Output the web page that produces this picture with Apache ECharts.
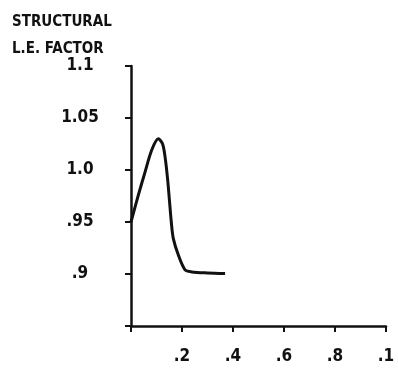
<!DOCTYPE html>
<html>
<head>
<meta charset="utf-8">
<script src="https://cdn.jsdelivr.net/npm/echarts@6/dist/echarts.min.js"></script>
<style>
  html, body { margin: 0; padding: 0; background: #fff; }
  #chart { width: 398px; height: 371px; }
</style>
</head>
<body>
<div id="chart"></div>
<script>
// 曲线数据 (x: fraction, y: factor)
var xVals = [0, 0.029, 0.055, 0.081, 0.107, 0.124, 0.135, 0.144, 0.151, 0.158, 0.166, 0.186, 0.212, 0.238, 0.3, 0.369];
var yVals = [0.95, 0.976, 0.998, 1.019, 1.030, 1.025, 1.010, 0.990, 0.970, 0.950, 0.934, 0.918, 0.904, 0.902, 0.901, 0.9005];

// 刻度标签
var yTicks = [0.9, 0.95, 1.0, 1.05, 1.1];
var yTickLabels = ['.9', '.95', '1.0', '1.05', '1.1'];
var xTicks = [0.2, 0.4, 0.6, 0.8, 1.0];
var xTickLabels = ['.2', '.4', '.6', '.8', '.1'];

var titleLines = ['STRUCTURAL', 'L.E. FACTOR'];

function pickLabel(ticks, labels, v) {
  for (var i = 0; i < ticks.length; i++) {
    if (Math.abs(ticks[i] - v) < 1e-6) return labels[i];
  }
  return '';
}

var points = xVals.map(function (x, i) { return [x, yVals[i]]; });

var labelFont = {
  fontFamily: 'DejaVu Sans Condensed',
  fontWeight: 'bold',
  fontSize: 17,
  color: '#111'
};

var myChart = echarts.init(document.getElementById('chart'));
myChart.setOption({
  animation: false,
  title: {
    text: titleLines.join('\n'),
    left: 7,
    top: 4,
    textStyle: {
      fontFamily: 'DejaVu Sans Condensed',
      fontWeight: 'bold',
      fontSize: 15,
      lineHeight: 27,
      color: '#111'
    }
  },
  grid: {
    left: 131,
    right: 12,
    top: 66,
    bottom: 45
  },
  xAxis: {
    type: 'value',
    min: 0,
    max: 1.0,
    interval: 0.2,
    axisLine: { lineStyle: { color: '#111', width: 2.5 } },
    axisTick: { show: true, length: 6, lineStyle: { color: '#111', width: 2 } },
    splitLine: { show: false },
    axisLabel: Object.assign({
      margin: 22,
      showMinLabel: true,
      showMaxLabel: true,
      formatter: function (v) { return pickLabel(xTicks, xTickLabels, v); }
    }, labelFont)
  },
  yAxis: {
    type: 'value',
    min: 0.85,
    max: 1.1,
    interval: 0.05,
    axisLine: { show: true, lineStyle: { color: '#111', width: 2.5 } },
    axisTick: { show: true, length: 6, lineStyle: { color: '#111', width: 2 } },
    splitLine: { show: false },
    axisLabel: Object.assign({
      margin: 51,
      align: 'center',
      verticalAlign: 'middle',
      padding: [0, 0, 10, 0],
      showMinLabel: true,
      showMaxLabel: true,
      formatter: function (v) { return pickLabel(yTicks, yTickLabels, v); }
    }, labelFont)
  },
  series: [
    {
      type: 'line',
      data: points,
      smooth: 0.3,
      showSymbol: false,
      lineStyle: { color: '#111', width: 3 }
    }
  ]
});
</script>
</body>
</html>
